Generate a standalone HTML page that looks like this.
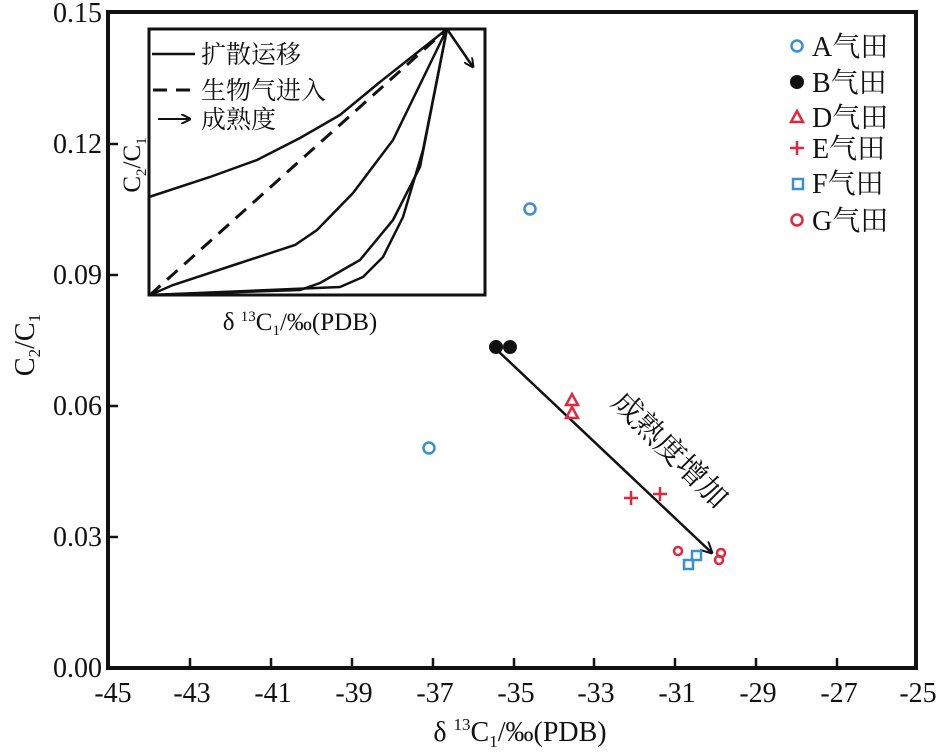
<!DOCTYPE html>
<html><head><meta charset="utf-8"><style>
html,body{margin:0;padding:0;background:#fff;}
</style></head><body>
<svg width="939" height="747" viewBox="0 0 939 747" xmlns="http://www.w3.org/2000/svg" font-family="'Liberation Serif','Noto Serif CJK SC',serif" fill="#111">
<defs>
<marker id="ah" markerWidth="10" markerHeight="10" refX="9" refY="5" orient="auto" markerUnits="userSpaceOnUse"><path d="M0,0 L10,5 L0,10" fill="none" stroke="#111" stroke-width="2"/></marker>
<marker id="ah2" markerWidth="12" markerHeight="12" refX="11" refY="6" orient="auto" markerUnits="userSpaceOnUse"><path d="M0,0 L12,6 L0,12" fill="none" stroke="#111" stroke-width="2"/></marker>
</defs>
<rect x="108" y="12" width="808" height="656" fill="none" stroke="#111" stroke-width="4"/>
<g stroke="#111" stroke-width="2.5">
<line x1="108" y1="144" x2="118" y2="144"/><line x1="108" y1="275" x2="118" y2="275"/>
<line x1="108" y1="406" x2="118" y2="406"/><line x1="108" y1="537" x2="118" y2="537"/>
<line x1="190" y1="668" x2="190" y2="658"/><line x1="271" y1="668" x2="271" y2="658"/>
<line x1="352" y1="668" x2="352" y2="658"/><line x1="433" y1="668" x2="433" y2="658"/>
<line x1="514" y1="668" x2="514" y2="658"/><line x1="594" y1="668" x2="594" y2="658"/>
<line x1="675" y1="668" x2="675" y2="658"/><line x1="756" y1="668" x2="756" y2="658"/>
<line x1="837" y1="668" x2="837" y2="658"/>
</g>
<g font-size="28" text-anchor="end">
<text x="102" y="22">0.15</text><text x="102" y="153">0.12</text><text x="102" y="284">0.09</text>
<text x="102" y="415">0.06</text><text x="102" y="546">0.03</text><text x="102" y="677">0.00</text>
</g>
<g font-size="28" text-anchor="middle">
<text x="113" y="702">-45</text><text x="192" y="702">-43</text><text x="273" y="702">-41</text>
<text x="354" y="702">-39</text><text x="435" y="702">-37</text><text x="516" y="702">-35</text>
<text x="596" y="702">-33</text><text x="677" y="702">-31</text><text x="758" y="702">-29</text>
<text x="839" y="702">-27</text><text x="918" y="702">-25</text>
</g>
<text x="520" y="741" font-size="28" text-anchor="middle">δ <tspan font-size="17" dy="-11">13</tspan><tspan dy="11">C</tspan><tspan font-size="17" dy="6">1</tspan><tspan dy="-6">/‰(PDB)</tspan></text>
<text transform="translate(34,345) rotate(-90)" font-size="28" text-anchor="middle">C<tspan font-size="17" dy="6">2</tspan><tspan dy="-6">/C</tspan><tspan font-size="17" dy="6">1</tspan></text>

<rect x="149" y="29" width="336" height="266" fill="none" stroke="#111" stroke-width="3"/>
<g fill="none" stroke="#111" stroke-width="2.5">
<path d="M149,197 L210,177 L257,160 L300,138 L340,115 L380,82 L447,29"/>
<path d="M150,295 L173,285 L240,263 L295,245 L317,230 L353,193 L393,140 L447,29"/>
<path d="M150,295 L240,292 L300,290 L320,283 L360,260 L393,220 L420,167 L447,29"/>
<path d="M150,295 L340,287 L363,277 L383,257 L403,217 L423,150 L447,29"/>
<path d="M150,295 L447,29" stroke-dasharray="14,9" stroke-width="3"/>
<line x1="447" y1="29" x2="473" y2="67" marker-end="url(#ah)"/>
<line x1="152" y1="54" x2="195" y2="54"/>
<line x1="153" y1="90" x2="198" y2="90" stroke-dasharray="14,9" stroke-width="3"/>
<line x1="158" y1="119" x2="190" y2="119" stroke-width="2" marker-end="url(#ah)"/>
</g>
<g font-size="25">
<text x="201" y="63">扩散运移</text>
<text x="201" y="99">生物气进入</text>
<text x="201" y="128">成熟度</text>
</g>
<text transform="translate(140,165) rotate(-90)" font-size="25" text-anchor="middle">C<tspan font-size="15" dy="6">2</tspan><tspan dy="-6">/C</tspan><tspan font-size="15" dy="6">1</tspan></text>
<text x="300" y="330" font-size="25" text-anchor="middle">δ <tspan font-size="15" dy="-9">13</tspan><tspan dy="9">C</tspan><tspan font-size="15" dy="5">1</tspan><tspan dy="-5">/‰(PDB)</tspan></text>

<line x1="497" y1="350" x2="712" y2="553" stroke="#111" stroke-width="2.5" marker-end="url(#ah2)"/>
<text transform="translate(668,452) rotate(45)" font-size="30" text-anchor="middle" dominant-baseline="middle">成熟度增加</text>

<g fill="none" stroke="#3a8fd0" stroke-width="2.5">
<circle cx="530" cy="209" r="5.5"/><circle cx="429" cy="448" r="5.5"/>
<rect x="684" y="560" width="9" height="9"/><rect x="692" y="551" width="9" height="9"/>
<circle cx="797" cy="46" r="5.5"/><rect x="793" y="179" width="10" height="10"/>
</g>
<g fill="#111"><circle cx="496" cy="347" r="7"/><circle cx="510" cy="347" r="7"/><circle cx="797" cy="82" r="7"/></g>
<g fill="none" stroke="#e0283c" stroke-width="2.5">
<path d="M572,394 L578,405 L566,405 Z"/><path d="M572,407 L578,418 L566,418 Z"/>
<path d="M797,111 L803,122 L791,122 Z"/>
<path d="M624,498 H638 M631,491 V505"/><path d="M653,494 H667 M660,487 V501"/>
<path d="M790,148 H804 M797,141 V155"/>
<circle cx="678" cy="551" r="4"/><circle cx="721" cy="553" r="4"/><circle cx="719" cy="560" r="4"/>
<circle cx="797" cy="220" r="5.5"/>
</g>
<g font-size="28">
<text x="812" y="56">A气田</text><text x="812" y="92">B气田</text><text x="812" y="127">D气田</text>
<text x="812" y="158">E气田</text><text x="812" y="193">F气田</text><text x="812" y="230">G气田</text>
</g>
</svg>
</body></html>
